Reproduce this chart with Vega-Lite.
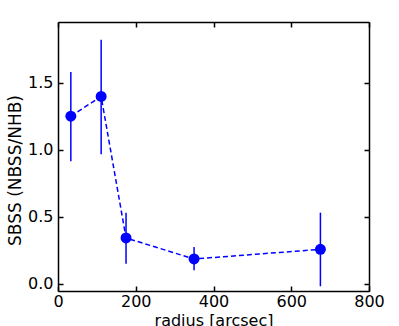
{
  "$schema": "https://vega.github.io/schema/vega-lite/v6.json",
  "width": 311,
  "height": 269,
  "autosize": "none",
  "padding": {"left": 58, "top": 22, "right": 30, "bottom": 35},
  "background": "white",
  "config": {
    "view": {"stroke": null},
    "font": "DejaVu Sans",
    "axis": {
      "grid": false,
      "domainColor": "black",
      "domainWidth": 1.5,
      "tickColor": "black",
      "tickWidth": 1.5,
      "tickSize": -5,
      "labelFlush": false,
      "labelFont": "DejaVu Sans",
      "labelFontSize": 16,
      "labelColor": "black",
      "titleFont": "DejaVu Sans",
      "titleFontSize": 16,
      "titleFontWeight": "normal",
      "titleColor": "black"
    }
  },
  "data": {
    "values": [
      {"r": 33, "s": 1.25, "lo": 0.914, "hi": 1.58},
      {"r": 111, "s": 1.397, "lo": 0.966, "hi": 1.82},
      {"r": 175, "s": 0.341, "lo": 0.149, "hi": 0.53},
      {"r": 350, "s": 0.184, "lo": 0.1, "hi": 0.274},
      {"r": 675, "s": 0.256, "lo": -0.02, "hi": 0.53}
    ]
  },
  "resolve": {"axis": {"x": "independent", "y": "independent"}},
  "layer": [
    {
      "mark": {"type": "rule", "color": "#0000ff", "strokeWidth": 1.5},
      "encoding": {
        "x": {"field": "r", "type": "quantitative", "scale": {"domain": [0, 800], "nice": false, "zero": false},
          "axis": {"orient": "bottom", "title": "radius [arcsec]", "values": [0, 200, 400, 600, 800], "labelPadding": 7, "titleBaseline": "alphabetic", "titleY": 34}},
        "y": {"field": "lo", "type": "quantitative", "scale": {"domain": [-0.055, 1.953], "nice": false, "zero": false},
          "axis": {"orient": "left", "title": "SBSS (NBSS/NHB)", "values": [0, 0.5, 1, 1.5], "format": ".1f", "labelPadding": 10, "titleFontSize": 17, "titleBaseline": "alphabetic", "titleX": -38, "titleY": 148}},
        "y2": {"field": "hi"}
      }
    },
    {
      "mark": {"type": "line", "color": "#0000ff", "strokeWidth": 1.5, "strokeDash": [5, 3]},
      "encoding": {
        "x": {"field": "r", "type": "quantitative",
          "axis": {"orient": "top", "title": null, "labels": false, "values": [0, 200, 400, 600, 800]}},
        "y": {"field": "s", "type": "quantitative",
          "axis": {"orient": "right", "title": null, "labels": false, "values": [0, 0.5, 1, 1.5]}}
      }
    },
    {
      "mark": {"type": "point", "filled": true, "shape": "circle", "size": 120, "color": "#0000ff", "opacity": 1},
      "encoding": {
        "x": {"field": "r", "type": "quantitative", "axis": null},
        "y": {"field": "s", "type": "quantitative", "axis": null}
      }
    }
  ]
}
